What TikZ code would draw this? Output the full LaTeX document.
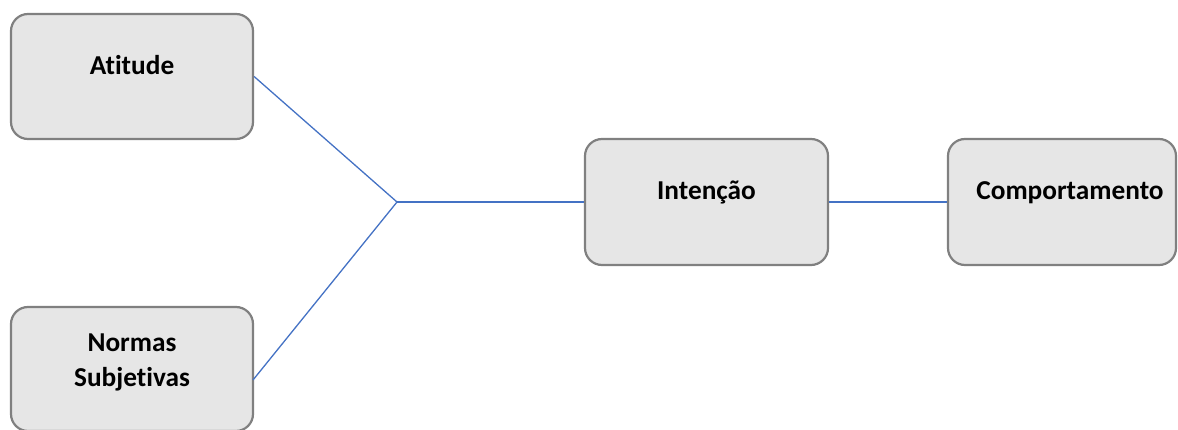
\documentclass[tikz,border=0pt]{standalone}
\usepackage{fontspec}
\setmainfont{Carlito}[Ligatures=NoCommon]
\definecolor{boxfill}{HTML}{E6E6E6}
\definecolor{boxline}{HTML}{808080}
\definecolor{conn}{HTML}{4472C4}
\begin{document}
\begin{tikzpicture}[x=1pt,y=-1pt,
  box/.style={draw=boxline, fill=boxfill, line width=2.2pt, rounded corners=17pt, rectangle, inner sep=0pt},
  lbl/.style={font=\fontsize{27.3}{35}\selectfont\bfseries, align=center, anchor=base, inner sep=0pt, text=black},
  conn/.style={draw=conn, line width=1.3pt}]
\useasboundingbox (0,0) rectangle (1178,430);
\node[box, minimum width=242pt, minimum height=125pt] (at) at (132,76.5) {};
\node[box, minimum width=242pt, minimum height=124pt] (ns) at (132,369) {};
\node[box, minimum width=243pt, minimum height=126pt] (in) at (706.5,202) {};
\node[box, minimum width=228pt, minimum height=126pt] (co) at (1062,202) {};
\node[lbl] (tat) at (132,75) {Atitude};
\node[lbl] (tns) at (132,386) {Normas\\Subjetivas};
\node[lbl] (tin) at (706.5,200) {Intenção};
\node[lbl] (tco) at (1070,200) {Comportamento};
\coordinate (j) at (397,202);
\coordinate (nsr) at (253,380);
\draw[conn] (at.east) -- (j);
\draw[conn] (nsr) -- (j);
\draw[conn] (j) -- (in.west);
\draw[conn] (in.east) -- (co.west);
\end{tikzpicture}
\end{document}
